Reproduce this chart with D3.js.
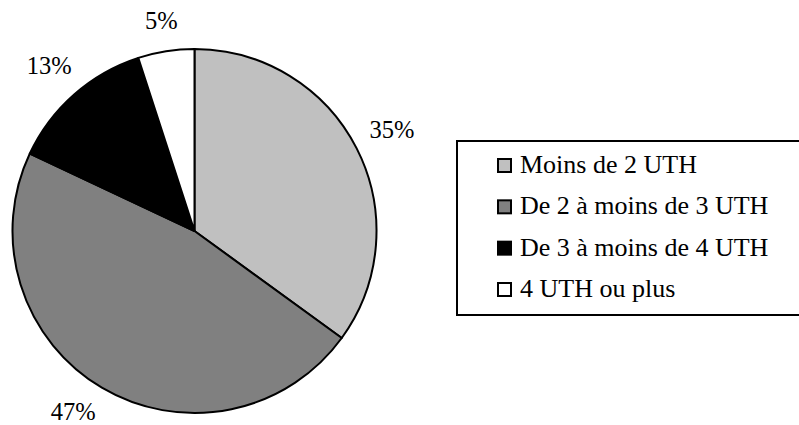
<!DOCTYPE html>
<html><head><meta charset="utf-8">
<script src="https://cdn.jsdelivr.net/npm/d3@7"></script>
<style>
html,body{margin:0;padding:0;background:#fff;}
svg{display:block;}
</style></head>
<body>
<svg id="chart" width="799" height="425"></svg>
<script>
const categories = ["Moins de 2 UTH", "De 2 à moins de 3 UTH", "De 3 à moins de 4 UTH", "4 UTH ou plus"];
const values = [35, 47, 13, 5];
const colors = ["#c0c0c0", "#808080", "#000000", "#ffffff"];

const FONT = "'Liberation Serif', 'Times New Roman', Times, 'DejaVu Serif', serif";
const W = 799, H = 425;
const cx = 194.5, cy = 231, r = 182;
const svg = d3.select("#chart").attr("font-family", FONT);

const pie = d3.pie().sort(null).value(d => d)(values);
const arc = d3.arc().innerRadius(0).outerRadius(r);

const g = svg.append("g").attr("transform", `translate(${cx},${cy})`);
g.selectAll("path").data(pie).join("path")
  .attr("d", arc)
  .attr("fill", (d, i) => colors[i])
  .attr("stroke", "#000")
  .attr("stroke-width", 2)
  .attr("stroke-linejoin", "round");

// percentage labels, outside end, kept on a circle and rotated to fit the chart area
const total = d3.sum(values);
const fmt = v => Math.round(v / total * 100) + "%";
pie.forEach((d, i) => {
  const t = g.append("text").attr("font-family", FONT).attr("font-size", 24.5).text(fmt(d.value));
  const bb = t.node().getBBox();
  const hw = bb.width / 2, hh = 8;
  let a = (d.startAngle + d.endAngle) / 2;
  const support = Math.abs(Math.sin(a)) * hw + Math.abs(Math.cos(a)) * hh;
  const R = r + 23 + 0.7 * support;
  let x = R * Math.sin(a), y = -R * Math.cos(a);
  const maxY = H - cy - 13;
  if (y > maxY) {
    const ca = -maxY / R;
    a = Math.sin(a) > 0 ? Math.acos(ca) : 2 * Math.PI - Math.acos(ca);
    x = R * Math.sin(a); y = -R * Math.cos(a);
  }
  t.attr("x", x).attr("y", y + 8).attr("text-anchor", "middle");
});

// legend
const lg = svg.append("g");
lg.append("rect").attr("x", 457).attr("y", 141).attr("width", 360).attr("height", 174)
  .attr("fill", "#fff").attr("stroke", "#000").attr("stroke-width", 2);
const rowY = d3.scalePoint().domain(categories).range([173, 297]);
categories.forEach((c, i) => {
  const y = rowY(c);
  lg.append("rect").attr("x", 498).attr("y", y - 14).attr("width", 13).attr("height", 13)
    .attr("fill", colors[i]).attr("stroke", "#000").attr("stroke-width", 2);
  lg.append("text").attr("font-family", FONT).attr("x", 520).attr("y", y).attr("font-size", 26).text(c);
});
</script>
</body></html>
